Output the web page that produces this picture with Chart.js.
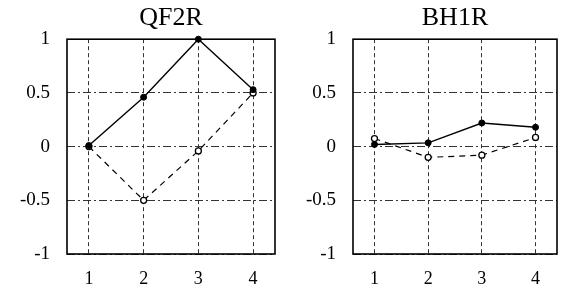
<!DOCTYPE html>
<html>
<head>
<meta charset="utf-8">
<script src="https://cdn.jsdelivr.net/npm/chart.js@4"></script>
<style>
    body { margin: 0; background: #fff; }
    .panel { position: absolute; top: 0; }
</style>
</head>
<body>
<div class="panel" style="left:0"><canvas id="qf2r" width="285" height="290"></canvas></div>
<div class="panel" style="left:285px"><canvas id="bh1r" width="282" height="290"></canvas></div>
<script>
const xTicks = [1, 2, 3, 4];
const yTicks = [-1, -0.5, 0, 0.5, 1];

// QF2R
const qf2rSolid = [0.01, 0.46, 1.0, 0.53];
const qf2rDashed = [0.0, -0.5, -0.04, 0.5];

// BH1R
const bh1rSolid = [0.02, 0.035, 0.22, 0.18];
const bh1rDashed = [0.075, -0.1, -0.08, 0.085];

const serif = "'Liberation Serif', 'DejaVu Serif', serif";

// frame around the plot area
const boxPlugin = {
    id: 'box',
    beforeDatasetsDraw(chart) {
        const { ctx, chartArea: a } = chart;
        ctx.save();
        ctx.strokeStyle = '#000';
        ctx.lineWidth = 1.6;
        ctx.strokeRect(a.left, a.top, a.right - a.left, a.bottom - a.top);
        ctx.restore();
    }
};

function toPoints(values) {
    return values.map((v, i) => ({ x: xTicks[i], y: v }));
}

function makeChart(id, title, solid, dashed, yWidth) {
    const ctx = document.getElementById(id).getContext('2d');
    return new Chart(ctx, {
        type: 'line',
        data: {
            datasets: [{
                data: toPoints(solid),
                borderColor: '#000',
                borderWidth: 1.4,
                pointRadius: 3,
                pointBackgroundColor: '#000',
                pointBorderColor: '#000',
                pointBorderWidth: 1,
                tension: 0,
                clip: false
            }, {
                data: toPoints(dashed),
                borderColor: '#000',
                borderWidth: 1.2,
                borderDash: [6, 5],
                pointRadius: 3,
                pointBackgroundColor: '#fff',
                pointBorderColor: '#000',
                pointBorderWidth: 1.3,
                tension: 0,
                clip: false
            }]
        },
        options: {
            responsive: false,
            animation: false,
            events: [],
            layout: { padding: { left: 0, right: 10, top: 0, bottom: 0 } },
            plugins: {
                legend: { display: false },
                tooltip: { enabled: false },
                title: {
                    display: true,
                    text: title,
                    fullSize: false,
                    color: '#000',
                    font: { family: serif, size: 26, weight: 'normal' },
                    padding: { top: 3, bottom: 5 }
                }
            },
            scales: {
                x: {
                    type: 'linear',
                    min: 0.6,
                    max: 4.4,
                    afterBuildTicks: axis => { axis.ticks = xTicks.map(v => ({ value: v })); },
                    afterFit: axis => { axis.height = 36; },
                    border: { display: false, dash: [4, 3] },
                    grid: { color: '#333', lineWidth: 1, drawTicks: false },
                    ticks: {
                        color: '#000',
                        padding: 14,
                        maxRotation: 0,
                        font: { family: serif, size: 18 },
                        callback: v => String(v)
                    }
                },
                y: {
                    min: -1,
                    max: 1,
                    afterBuildTicks: axis => { axis.ticks = yTicks.map(v => ({ value: v })); },
                    afterFit: axis => { axis.width = yWidth; },
                    border: { display: false, dash: [8, 3, 2, 3] },
                    grid: { color: '#333', lineWidth: 1, drawTicks: false },
                    ticks: {
                        color: '#000',
                        padding: 17,
                        font: { family: serif, size: 19 },
                        callback: v => String(v)
                    }
                }
            }
        },
        plugins: [boxPlugin]
    });
}

makeChart('qf2r', 'QF2R', qf2rSolid, qf2rDashed, 67);
makeChart('bh1r', 'BH1R', bh1rSolid, bh1rDashed, 68);
</script>
</body>
</html>
